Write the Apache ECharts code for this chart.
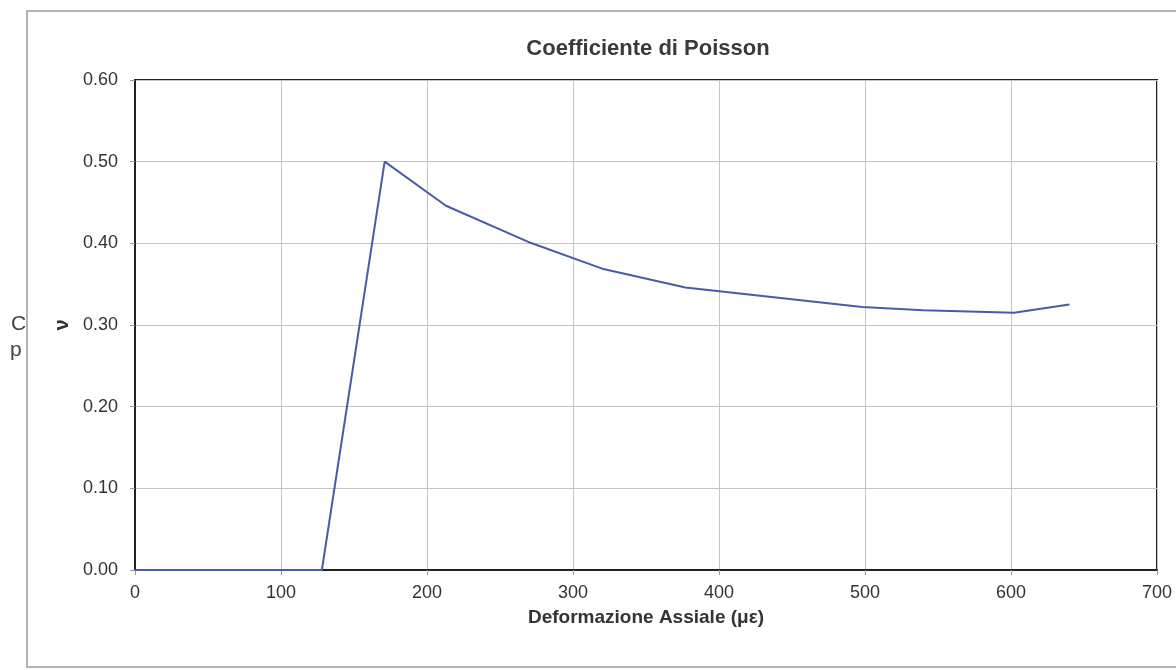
<!DOCTYPE html>
<html>
<head>
<meta charset="utf-8">
<script src="https://cdn.jsdelivr.net/npm/echarts@6/dist/echarts.min.js"></script>
<style>
html,body{margin:0;padding:0;background:#fff;}
#c{width:1176px;height:670px;}
</style>
</head>
<body>
<div id="c"></div>
<script>
var titleText = 'Coefficiente di Poisson';
var xName = 'Deformazione Assiale (\u03bc\u03b5)';
var yName = '\u03bd';
var strain = [0, 128, 171, 213, 269, 320, 377, 498, 540, 602, 640];
var poisson = [0, 0, 0.500, 0.446, 0.402, 0.369, 0.346, 0.322, 0.318, 0.315, 0.325];

var pts = strain.map(function (x, i) { return [x, poisson[i]]; });
var font = '"Liberation Sans", Arial, sans-serif';

var chart = echarts.init(document.getElementById('c'));
chart.setOption({
  animation: false,
  backgroundColor: '#fff',
  title: {
    text: titleText,
    left: 643, top: 33, textAlign: 'center',
    textStyle: { fontFamily: font, fontSize: 22, fontWeight: 'bold', color: '#3a3a3a' }
  },
  graphic: [
    { type: 'rect', silent: true, shape: { x: 27, y: 11, width: 1170, height: 656 },
      style: { fill: 'none', stroke: '#9a9a9a', lineWidth: 1.5 } },
    { type: 'text', silent: true, left: 11, top: 314,
      style: { text: 'C', font: '21px "Liberation Sans", Arial, sans-serif', fill: '#444' } },
    { type: 'text', silent: true, left: 10, top: 340,
      style: { text: 'p', font: '21px "Liberation Sans", Arial, sans-serif', fill: '#444' } }
  ],
  grid: {
    left: 135, right: 19, top: 80, bottom: 100,
    show: true, borderColor: '#222', borderWidth: 2, backgroundColor: 'transparent'
  },
  xAxis: {
    type: 'value', min: 0, max: 700, interval: 100,
    name: xName, nameLocation: 'middle', nameGap: 38,
    nameTextStyle: { fontFamily: font, fontSize: 19, fontWeight: 'bold', color: '#333' },
    axisLine: { show: true, lineStyle: { color: '#222', width: 2 } },
    axisTick: { show: true, length: 5, lineStyle: { color: '#999' } },
    axisLabel: { fontFamily: font, fontSize: 18, color: '#333', margin: 14 },
    splitLine: { show: true, lineStyle: { color: '#c4c4c4', width: 1 } }
  },
  yAxis: {
    type: 'value', min: 0, max: 0.6, interval: 0.1,
    name: yName, nameLocation: 'middle', nameRotate: 90, nameGap: 63,
    nameTextStyle: { fontFamily: font, fontSize: 20, fontWeight: 'bold', color: '#333' },
    axisLine: { show: true, lineStyle: { color: '#222', width: 2 } },
    axisTick: { show: true, length: 5, lineStyle: { color: '#999' } },
    axisLabel: { fontFamily: font, fontSize: 18, color: '#333', margin: 17,
      formatter: function (v) { return v.toFixed(2); } },
    splitLine: { show: true, lineStyle: { color: '#c4c4c4', width: 1 } }
  },
  series: [{
    type: 'line', data: pts, showSymbol: false, symbol: 'none',
    lineStyle: { color: '#4a5ba6', width: 2 }, z: 5
  }]
});
</script>
</body>
</html>
